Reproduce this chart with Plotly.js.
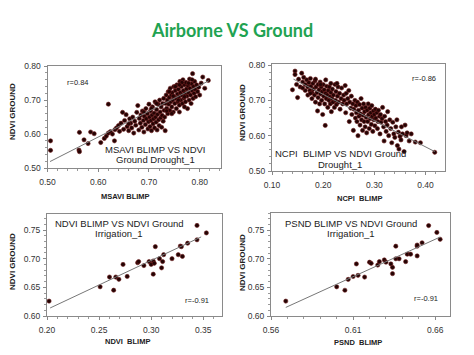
<!DOCTYPE html>
<html><head><meta charset="utf-8">
<script src="https://cdn.plot.ly/plotly-3.0.1.min.js"></script>
<style>html,body{margin:0;padding:0;background:#fff}#chart{width:474px;height:355px}</style>
</head><body><div id="chart"></div>
<script>
// Panel 1: MSAVI BLIMP vs NDVI Ground (Drought_1)
const msaviX = [
0.506,0.506,0.563,0.562,0.563,0.572,0.580,0.585,0.592,0.605,
0.612,0.616,0.620,0.620,0.624,0.628,0.632,0.633,0.636,0.640,
0.642,0.645,0.648,0.650,0.652,0.655,0.657,0.660,0.662,0.664,
0.666,0.668,0.670,0.672,0.674,0.676,0.678,0.680,0.681,0.683,
0.684,0.686,0.687,0.689,0.690,0.691,0.693,0.694,0.695,0.697,
0.698,0.699,0.700,0.701,0.702,0.703,0.704,0.705,0.706,0.707,
0.708,0.709,0.710,0.711,0.712,0.713,0.714,0.715,0.716,0.717,
0.718,0.719,0.720,0.721,0.722,0.723,0.724,0.725,0.726,0.727,
0.728,0.729,0.730,0.731,0.732,0.733,0.734,0.735,0.736,0.737,
0.738,0.739,0.740,0.741,0.742,0.743,0.744,0.745,0.746,0.747,
0.748,0.749,0.750,0.751,0.752,0.753,0.754,0.755,0.756,0.757,
0.758,0.759,0.760,0.761,0.762,0.763,0.764,0.765,0.766,0.767,
0.768,0.769,0.770,0.771,0.772,0.773,0.774,0.775,0.776,0.777,
0.778,0.779,0.780,0.781,0.782,0.783,0.784,0.785,0.786,0.787,
0.788,0.789,0.790,0.791,0.792,0.794,0.796,0.798,0.800,0.803,
0.806,0.810,0.817,0.735,0.745,0.760,0.770,0.752,0.765,0.758,
0.740,0.770,0.748,0.778,0.785,0.760,0.690,0.705,0.715,0.660];
const ndviD1a = [
0.580,0.552,0.605,0.553,0.548,0.583,0.572,0.606,0.601,0.575,
0.587,0.594,0.688,0.603,0.607,0.600,0.580,0.613,0.618,0.625,
0.608,0.632,0.664,0.614,0.640,0.657,0.622,0.610,0.645,0.632,
0.618,0.650,0.603,0.638,0.626,0.664,0.684,0.612,0.646,0.632,
0.656,0.620,0.668,0.640,0.606,0.652,0.628,0.675,0.645,0.660,
0.615,0.636,0.688,0.650,0.622,0.668,0.640,0.610,0.656,0.680,
0.630,0.645,0.662,0.618,0.695,0.650,0.635,0.672,0.612,0.658,
0.688,0.642,0.625,0.700,0.665,0.648,0.680,0.620,0.655,0.690,
0.638,0.705,0.670,0.650,0.610,0.690,0.715,0.676,0.700,0.660,
0.725,0.688,0.708,0.670,0.735,0.695,0.715,0.680,0.722,0.700,
0.665,0.740,0.710,0.690,0.728,0.705,0.675,0.745,0.718,0.695,
0.732,0.710,0.685,0.755,0.722,0.700,0.740,0.715,0.690,0.760,
0.728,0.706,0.745,0.720,0.695,0.752,0.733,0.712,0.675,0.742,
0.722,0.700,0.762,0.735,0.715,0.690,0.748,0.728,0.778,0.705,
0.740,0.720,0.755,0.732,0.710,0.745,0.725,0.738,0.715,0.750,
0.768,0.735,0.758,0.668,0.660,0.665,0.680,0.740,0.752,0.700,
0.725,0.710,0.712,0.750,0.760,0.745,0.665,0.675,0.690,0.630];
const fit1X = [0.505, 0.818];
const fit1Y = [0.519, 0.757];

// Panel 2: NCPI BLIMP vs NDVI Ground (Drought_1)
const ncpiX = [
0.145,0.145,0.158,0.140,0.150,0.148,0.152,0.155,0.160,0.162,
0.165,0.165,0.168,0.170,0.170,0.172,0.174,0.175,0.176,0.178,
0.178,0.180,0.181,0.183,0.184,0.185,0.186,0.188,0.189,0.190,
0.190,0.192,0.193,0.194,0.195,0.196,0.197,0.198,0.199,0.200,
0.201,0.202,0.203,0.204,0.205,0.206,0.207,0.208,0.209,0.210,
0.211,0.212,0.213,0.214,0.215,0.216,0.217,0.218,0.219,0.220,
0.222,0.223,0.224,0.225,0.226,0.228,0.229,0.230,0.232,0.233,
0.235,0.236,0.238,0.240,0.241,0.243,0.244,0.245,0.246,0.248,
0.250,0.251,0.252,0.254,0.255,0.256,0.258,0.259,0.260,0.262,
0.263,0.264,0.265,0.266,0.267,0.268,0.269,0.270,0.271,0.272,
0.273,0.274,0.275,0.276,0.277,0.278,0.279,0.280,0.281,0.282,
0.283,0.284,0.285,0.286,0.287,0.288,0.289,0.290,0.291,0.292,
0.293,0.294,0.295,0.296,0.297,0.298,0.299,0.300,0.301,0.302,
0.303,0.305,0.306,0.307,0.308,0.310,0.311,0.312,0.313,0.315,
0.316,0.318,0.319,0.320,0.322,0.323,0.325,0.326,0.328,0.330,
0.332,0.334,0.336,0.338,0.340,0.342,0.344,0.345,0.347,0.348,
0.350,0.352,0.353,0.355,0.358,0.360,0.362,0.364,0.368,0.372,
0.380,0.390,0.418,0.160,0.175,0.185,0.195,0.205,0.215,0.227];
const ndviD1b = [
0.783,0.773,0.777,0.730,0.708,0.745,0.760,0.738,0.752,0.765,
0.728,0.745,0.758,0.738,0.715,0.750,0.728,0.762,0.740,0.705,
0.722,0.748,0.732,0.715,0.755,0.695,0.738,0.722,0.670,0.745,
0.708,0.730,0.690,0.752,0.718,0.738,0.700,0.725,0.660,0.745,
0.712,0.730,0.690,0.629,0.720,0.705,0.740,0.715,0.680,0.728,
0.700,0.738,0.710,0.690,0.722,0.668,0.705,0.732,0.695,0.715,
0.680,0.745,0.700,0.725,0.688,0.712,0.738,0.695,0.720,0.675,
0.705,0.735,0.690,0.715,0.700,0.742,0.665,0.720,0.690,0.705,
0.728,0.640,0.695,0.678,0.712,0.660,0.690,0.615,0.675,0.700,
0.650,0.685,0.665,0.640,0.695,0.600,0.672,0.655,0.688,0.630,
0.662,0.705,0.645,0.678,0.615,0.658,0.690,0.640,0.668,0.625,
0.680,0.652,0.608,0.672,0.640,0.690,0.660,0.620,0.678,0.648,
0.665,0.632,0.685,0.655,0.612,0.670,0.645,0.660,0.628,0.675,
0.650,0.665,0.620,0.640,0.672,0.655,0.605,0.660,0.638,0.648,
0.680,0.625,0.585,0.655,0.640,0.612,0.630,0.668,0.600,0.645,
0.620,0.580,0.638,0.605,0.595,0.625,0.645,0.572,0.610,0.562,
0.598,0.588,0.625,0.605,0.555,0.630,0.600,0.608,0.585,0.605,
0.582,0.580,0.553,0.735,0.720,0.760,0.745,0.758,0.748,0.748];
const fit2X = [0.142, 0.418];
const fit2Y = [0.760, 0.555];

// Panel 3: NDVI BLIMP vs NDVI Ground (Irrigation_1)
const ndviBlimpX = [0.202,0.251,0.260,0.264,0.266,0.269,0.273,0.277,0.287,0.288,
0.293,0.298,0.300,0.302,0.302,0.303,0.304,0.308,0.310,0.311,
0.312,0.320,0.326,0.328,0.329,0.330,0.335,0.344,0.344,0.353];
const ndviIrrA = [0.626,0.651,0.668,0.645,0.668,0.664,0.690,0.669,0.693,0.695,
0.688,0.695,0.690,0.696,0.673,0.692,0.721,0.700,0.684,0.695,
0.707,0.700,0.707,0.722,0.721,0.704,0.727,0.758,0.733,0.745];
const fit3X = [0.203, 0.348];
const fit3Y = [0.614, 0.738];

// Panel 4: PSND BLIMP vs NDVI Ground (Irrigation_1)
const psndX = [0.569,0.600,0.605,0.607,0.610,0.612,0.613,0.617,0.620,0.621,
0.625,0.626,0.629,0.630,0.633,0.634,0.634,0.636,0.636,0.638,
0.642,0.643,0.645,0.649,0.649,0.649,0.652,0.656,0.661,0.663];
const ndviIrrB = [0.626,0.651,0.645,0.664,0.669,0.691,0.671,0.668,0.694,0.692,
0.689,0.695,0.698,0.694,0.691,0.674,0.685,0.700,0.722,0.700,
0.695,0.708,0.708,0.705,0.722,0.724,0.728,0.758,0.746,0.734];
const fit4X = [0.569, 0.663];
const fit4Y = [0.615, 0.738];

const W = 474, H = 355;
const px = v => v / W;
const py = v => 1 - v / H;

const mk = {color:'#230404', size:4.2, line:{color:'#6e1c1c', width:0.6}};
const ln = {color:'#777777', width:1};
function pts(x, y, xa, ya){ return {type:'scatter', mode:'markers', x, y, xaxis:xa, yaxis:ya, marker:mk, hoverinfo:'none'}; }
function fit(x, y, xa, ya){ return {type:'scatter', mode:'lines', x, y, xaxis:xa, yaxis:ya, line:ln, hoverinfo:'none'}; }

const data = [
  pts(msaviX, ndviD1a, 'x', 'y'), fit(fit1X, fit1Y, 'x', 'y'),
  pts(ncpiX, ndviD1b, 'x2', 'y2'), fit(fit2X, fit2Y, 'x2', 'y2'),
  pts(ndviBlimpX, ndviIrrA, 'x3', 'y3'), fit(fit3X, fit3Y, 'x3', 'y3'),
  pts(psndX, ndviIrrB, 'x4', 'y4'), fit(fit4X, fit4Y, 'x4', 'y4')
];

const tf = {family:'Liberation Sans, Arial, sans-serif', size:8.5, color:'#333'};
function axis(anchor, dom, range, tick0, dtick, minor, isX){
  return {
    anchor, domain:dom, range, tick0, dtick, tickformat:'.2f',
    ticks:'outside', ticklen:3, tickcolor:'#888', tickwidth:1,
    linecolor:'#8a8a8a', linewidth:1, mirror:true,
    showgrid:false, zeroline:false, tickfont:tf,
    ticklabelstandoff: isX ? 3 : 1,
    minor:{ticks:'outside', ticklen:2, tick0, dtick:minor, tickcolor:'#999', showgrid:false}
  };
}

const layout = {
  width:W, height:H, margin:{l:0,r:0,t:0,b:0}, showlegend:false,
  paper_bgcolor:'#fff', plot_bgcolor:'#fff',
  xaxis:  axis('y',  [px(47.5), px(221)], [0.5, 0.842], 0.5, 0.1, 0.02, true),
  yaxis:  axis('x',  [py(168), py(65.5)], [0.5, 0.802], 0.5, 0.1, 0.02, false),
  xaxis2: axis('y2', [px(272), px(445)], [0.1, 0.438], 0.1, 0.1, 0.02, true),
  yaxis2: axis('x2', [py(171), py(64)], [0.5, 0.803], 0.5, 0.1, 0.02, false),
  xaxis3: axis('y3', [px(47), px(222)], [0.2, 0.368], 0.2, 0.05, 0.01, true),
  yaxis3: axis('x3', [py(316), py(214)], [0.6, 0.778], 0.6, 0.05, 0.01, false),
  xaxis4: axis('y4', [px(271), px(450)], [0.56, 0.669], 0.56, 0.05, 0.01, true),
  yaxis4: axis('x4', [py(316), py(213)], [0.6, 0.78], 0.6, 0.05, 0.01, false),
  annotations: []
};

const txt = {family:'Liberation Sans, Arial, sans-serif', color:'#222'};
function ann(text, x, y, size, extra){
  layout.annotations.push(Object.assign({
    text, x:px(x), y:py(y), xref:'paper', yref:'paper', xanchor:'center', yanchor:'middle',
    showarrow:false, font:Object.assign({}, txt, {size})
  }, extra || {}));
}

// Title
ann('<b>Airborne VS Ground</b>', 232, 30, 18, {font:{family:'Lato, sans-serif', size:18, color:'#1fa352'}});

// Panel 1
ann('r=0.84', 77, 82, 7.5);
ann('MSAVI BLIMP VS NDVI', 155, 149, 9.5);
ann('Ground Drought_1', 155, 159.5, 9.5);
ann('<b>NDVI GROUND</b>', 12, 112, 8, {textangle:-90});
ann('<b>MSAVI BLIMP</b>', 125, 196, 7.5);

// Panel 2
ann('r=-0.86', 424, 78.5, 7.5);
ann('NCPI  BLIMP VS NDVI Ground', 340, 153.5, 9.5);
ann('Drought_1', 340, 164.5, 9.5);
ann('<b>NDVI GROUND</b>', 242, 113, 8, {textangle:-90});
ann('<b>NCPI  BLIMP</b>', 359, 198, 7.5);

// Panel 3
ann('NDVI BLIMP VS NDVI Ground', 119.5, 223.5, 9.5);
ann('Irrigation_1', 119.5, 233.5, 9.5);
ann('r=-0.91', 197, 300, 7.5);
ann('<b>NDVI GROUND</b>', 12, 262, 8, {textangle:-90});
ann('<b>NDVI  BLIMP</b>', 127.5, 341, 7.5);

// Panel 4
ann('PSND BLIMP VS NDVI Ground', 350.5, 223.5, 9.5);
ann('Irrigation_1', 350.5, 233.5, 9.5);
ann('r=-0.91', 426, 298.5, 7.5);
ann('<b>NDVI GROUND</b>', 242, 263, 8, {textangle:-90});
ann('<b>PSND  BLIMP</b>', 358, 342, 7.5);

Plotly.newPlot('chart', data, layout, {staticPlot:true, displayModeBar:false});
</script>
</body></html>
